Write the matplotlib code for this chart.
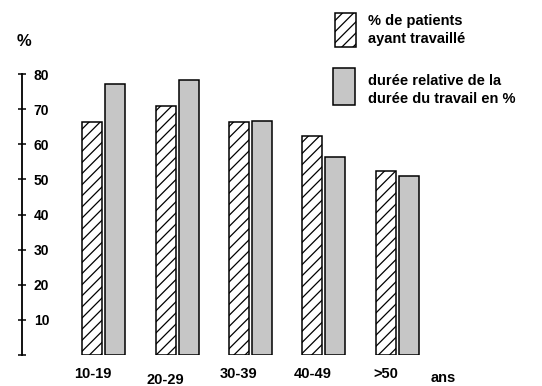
import matplotlib
matplotlib.use('Agg')
import matplotlib.pyplot as plt
from matplotlib.patches import Rectangle
from matplotlib.transforms import ScaledTranslation

# tranches d'âge et valeurs
ages = ['10-19', '20-29', '30-39', '40-49', '>50']
pct_travaille = [66.4, 70.9, 66.4, 62.4, 52.4]
duree_relative = [77.2, 78.3, 66.7, 56.4, 51.0]
yticks = [0, 10, 20, 30, 40, 50, 60, 70, 80]
ytick_labels = ['', '10', '20', '30', '40', '50', '60', '70', '80']

plt.rcParams['font.family'] = ['Liberation Sans', 'DejaVu Sans']
plt.rcParams['hatch.linewidth'] = 0.9

fig = plt.figure(figsize=(5.42, 3.86), dpi=100)
ax = fig.add_axes([22 / 542, 31 / 386, (480 - 22) / 542, 281 / 386])

x = list(range(len(ages)))
w = 0.27
off = 0.157
ax.bar([i - off for i in x], pct_travaille, width=w, facecolor='white',
       edgecolor='black', linewidth=1.1, hatch='///')
ax.bar([i + off for i in x], duree_relative, width=w, facecolor='#c6c6c6',
       edgecolor='black', linewidth=1.1)

ax.set_xlim(-1.116, 5.13)
ax.set_ylim(0, 80)

for s in ['top', 'right', 'bottom']:
    ax.spines[s].set_visible(False)
ax.spines['left'].set_linewidth(1.3)

ax.set_yticks(yticks)
ax.set_yticklabels(ytick_labels, fontsize=10, fontweight='bold')
ax.tick_params(axis='y', direction='inout', length=6, width=1.1, pad=-11.5)
for lab in ax.get_yticklabels():
    lab.set_horizontalalignment('left')

ax.set_xticks([i - off for i in x])
ax.set_xticklabels(ages, fontsize=10.5, fontweight='bold')
ax.tick_params(axis='x', length=0, pad=9)
# le libellé 20-29 est un peu plus bas dans l'original
lab = ax.get_xticklabels()[1]
lab.set_transform(lab.get_transform() + ScaledTranslation(0, -4 / 72, fig.dpi_scale_trans))

fig.text(443 / 542, 1 - 378 / 386, 'ans', fontsize=10.5, fontweight='bold',
         ha='center', va='center')
fig.text(24 / 542, 1 - 42 / 386, '%', fontsize=12, fontweight='bold',
         ha='center', va='center')

# légende
fig.patches.append(Rectangle((335 / 542, 1 - 47 / 386), 21 / 542, 34 / 386,
                             transform=fig.transFigure, facecolor='white',
                             edgecolor='black', linewidth=1.1, hatch='///'))
fig.patches.append(Rectangle((333 / 542, 1 - 105 / 386), 22 / 542, 37 / 386,
                             transform=fig.transFigure, facecolor='#c6c6c6',
                             edgecolor='black', linewidth=1.1))
fig.text(368 / 542, 1 - 21 / 386, '% de patients', fontsize=10.5,
         fontweight='bold', va='center')
fig.text(368 / 542, 1 - 39 / 386, 'ayant travaillé', fontsize=10.5,
         fontweight='bold', va='center')
fig.text(368 / 542, 1 - 81 / 386, 'durée relative de la', fontsize=10.5,
         fontweight='bold', va='center')
fig.text(368 / 542, 1 - 99 / 386, 'durée du travail en %', fontsize=10.5,
         fontweight='bold', va='center')

fig.savefig('out.png', dpi=100)
